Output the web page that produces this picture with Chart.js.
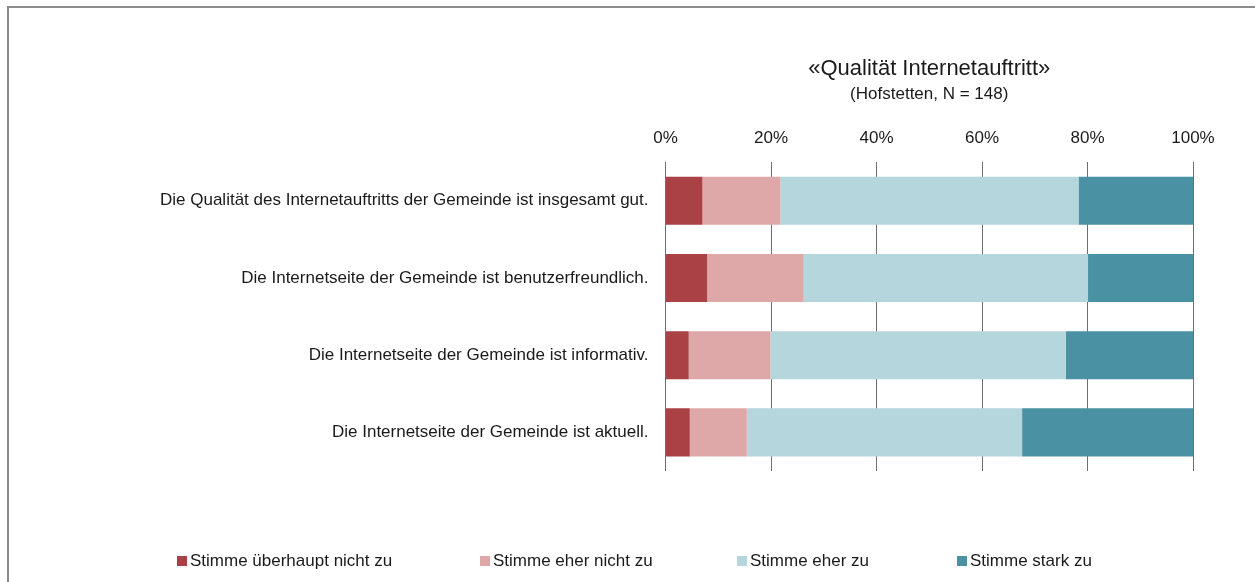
<!DOCTYPE html>
<html>
<head>
<meta charset="utf-8">
<script src="https://cdn.jsdelivr.net/npm/chart.js@4/dist/chart.umd.min.js"></script>
<style>
  html, body { margin: 0; padding: 0; background: #fff; }
  body { width: 1255px; height: 582px; position: relative; overflow: hidden; }
  #frame { position: absolute; left: 7px; top: 6px; width: 1300px; height: 700px;
           border-left: 2px solid #8c8c8c; border-top: 2px solid #8c8c8c; }
  #wrap { position: absolute; left: 0; top: 0; width: 1255px; height: 582px; }
  #legend { position: absolute; top: 551px; left: 0; width: 1255px; height: 22px;
            font-family: 'Liberation Sans Narrow', 'Arial Narrow', 'Liberation Sans', sans-serif;
            font-size: 17px; color: #1a1a1a; }
  .li { position: absolute; top: 0; display: flex; align-items: center; white-space: nowrap; }
  .sw { width: 10px; height: 10px; margin-right: 3px; display: inline-block; }
</style>
</head>
<body>
<div id="frame"></div>
<div id="wrap"><canvas id="c" width="1255" height="582"></canvas></div>
<div id="legend"></div>
<script>
const categories = [
  "Die Qualität des Internetauftritts der Gemeinde ist insgesamt gut.",
  "Die Internetseite der Gemeinde ist benutzerfreundlich.",
  "Die Internetseite der Gemeinde ist informativ.",
  "Die Internetseite der Gemeinde ist aktuell."
];
const seriesNames = ["Stimme überhaupt nicht zu", "Stimme eher nicht zu", "Stimme eher zu", "Stimme stark zu"];
const ueberhauptNicht = [7.0, 7.9, 4.4, 4.6];
const eherNicht = [14.8, 18.3, 15.5, 10.8];
const eherZu = [56.5, 53.9, 56.0, 52.2];
const stark = [21.7, 19.9, 24.1, 32.4];
const tickValues = [0, 20, 40, 60, 80, 100];
const titleText = "«Qualität Internetauftritt»";
const subtitleText = "(Hofstetten, N = 148)";

const colors = ["#aa4245", "#dfa8a8", "#b5d6dc", "#4a91a3"];
const FONT = "'Liberation Sans Narrow', 'Arial Narrow', 'Liberation Sans', sans-serif";
const values = [ueberhauptNicht, eherNicht, eherZu, stark];

const datasets = seriesNames.map((n, i) => ({
  label: n,
  data: values[i],
  backgroundColor: colors[i],
  borderWidth: 0,
  barPercentage: 0.623,
  categoryPercentage: 1.0
}));

new Chart(document.getElementById('c'), {
  type: 'bar',
  data: { labels: categories, datasets },
  options: {
    indexAxis: 'y',
    responsive: false,
    animation: false,
    layout: { padding: { left: 151, right: 62, top: 56, bottom: 111 } },
    plugins: {
      legend: { display: false },
      tooltip: { enabled: false },
      title: {
        display: true, text: titleText, fullSize: false,
        font: { family: FONT, size: 22, weight: 'normal' }, color: '#1a1a1a',
        padding: { top: 0, bottom: 2 }
      },
      subtitle: {
        display: true, text: subtitleText, fullSize: false,
        font: { family: FONT, size: 17, weight: 'normal' }, color: '#1a1a1a',
        padding: { top: 0, bottom: 9 }
      }
    },
    scales: {
      x: {
        position: 'top', stacked: true, min: 0, max: 100,
        afterBuildTicks: (ax) => { ax.ticks = tickValues.map(v => ({ value: v })); },
        ticks: {
          callback: (v) => v + '%', color: '#1a1a1a',
          font: { family: FONT, size: 17 }, padding: 14, maxRotation: 0
        },
        grid: { color: '#6e6e6e', lineWidth: 1, drawTicks: true, tickLength: 0, z: -1 },
        border: { display: false }
      },
      y: {
        stacked: true,
        ticks: { color: '#1a1a1a', font: { family: FONT, size: 17 }, padding: 9 },
        grid: { display: false },
        border: { display: false }
      }
    }
  }
});

const legendPos = [177, 480, 737, 957];
const lg = document.getElementById('legend');
seriesNames.forEach((n, i) => {
  const d = document.createElement('div');
  d.className = 'li';
  d.style.left = legendPos[i] + 'px';
  d.innerHTML = '<span class="sw" style="background:' + colors[i] + '"></span><span></span>';
  d.lastChild.textContent = n;
  lg.appendChild(d);
});
</script>
</body>
</html>
